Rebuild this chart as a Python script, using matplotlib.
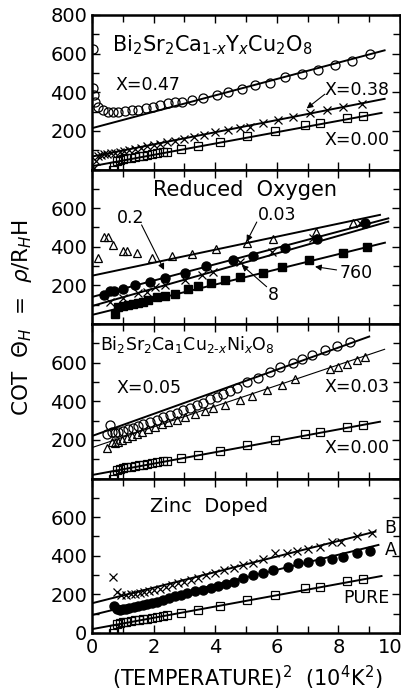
import numpy as np
import matplotlib.pyplot as plt
import matplotlib.transforms as mtransforms
from matplotlib.ticker import MultipleLocator

# ---- panel 1: Bi2Sr2Ca(1-x)YxCu2O8 ----
x47_t2 = [0.02, 0.04, 0.07, 0.1, 0.2, 0.37, 0.53, 0.69, 0.85, 1.07, 1.29, 1.5, 1.75, 1.98, 2.22, 2.48,
          2.7, 2.91, 3.24, 3.61, 4.05, 4.43, 4.86, 5.3, 5.78, 6.27, 6.81, 7.35, 7.89, 8.43, 9.03]
x47_cot = [622, 420, 386, 351, 325, 308, 300, 300, 300, 305, 308, 308, 316, 325, 333, 343,
           347, 351, 360, 369, 386, 403, 415, 438, 450, 477, 494, 515, 541, 562, 598]
x38_t2 = [0.05, 0.12, 0.2, 0.3, 0.4, 0.5, 0.62, 0.75, 0.9, 1.05, 1.2, 1.4, 1.6, 1.8, 2.0, 2.2, 2.45,
          2.7, 3.0, 3.3, 3.65, 4.0, 4.4, 4.8, 5.13, 5.55, 6.04, 6.53, 7.08, 7.63, 8.15, 8.77]
x38_cot = [8, 45, 68, 75, 80, 82, 85, 88, 92, 96, 100, 107, 113, 120, 128, 134, 143,
           150, 160, 170, 180, 192, 205, 216, 222, 243, 256, 270, 291, 308, 322, 339]
# pure sample (X=0.00), shown in panels 1, 3 and 4
pure_t2 = [0.68, 0.72, 0.8, 0.9, 1.0, 1.12, 1.25, 1.38, 1.52, 1.65, 1.8, 1.95, 2.12, 2.3, 2.45,
           2.9, 3.45, 4.15, 5.02, 5.94, 6.92, 7.4, 8.27, 8.81]
pure_cot = [0, 20, 45, 50, 55, 58, 62, 65, 68, 72, 75, 80, 83, 90, 93,
            105, 120, 140, 172, 197, 231, 240, 269, 279]
fit47 = ([0, 9.5], [214, 617])
fit38 = ([0, 9.5], [67, 366])
fit_pure = ([0, 9.4], [17, 293])

# ---- panel 2: reduced oxygen (anneal pressure, torr) ----
p003_t2 = [0.2, 0.4, 0.53, 0.69, 1.02, 1.13, 1.47, 1.94, 2.61, 3.26, 4.03, 5.02, 5.89, 7.27, 8.46]
p003_cot = [340, 452, 452, 409, 380, 380, 366, 340, 352, 361, 387, 418, 439, 478, 525]
p02_t2 = [0.4, 0.58, 0.7, 1.0, 1.4, 1.88, 2.38, 3.03, 3.7, 4.59, 5.24, 6.27, 7.3, 8.86]
p02_cot = [150, 173, 170, 183, 202, 218, 237, 263, 302, 330, 352, 393, 442, 525]
p8_t2 = [0.58, 1.0, 1.5, 1.77, 2.05, 2.37, 3.02, 3.56, 3.94, 4.8, 5.85, 7.19, 8.7]
p8_cot = [116, 133, 159, 167, 190, 200, 230, 255, 270, 323, 375, 444, 522]
p760_t2 = [0.75, 0.85, 1.02, 1.18, 1.34, 1.5, 1.67, 1.83, 2.1, 2.37, 2.69, 3.13, 3.45, 3.86, 4.32,
           4.8, 5.56, 6.16, 7.06, 8.16, 8.92]
p760_cot = [52, 86, 93, 98, 104, 110, 116, 124, 138, 145, 155, 180, 197, 214, 228,
            242, 266, 297, 332, 369, 400]
fit003 = ([0, 9.35], [250, 565])
fit02 = ([0, 9.62], [140, 547])
fit8 = ([0, 9.62], [93, 530])
fit760 = ([0, 9.51], [47, 421])

# ---- panel 3: Bi2Sr2CaCu(2-x)NixO8 ----
ni05_t2 = [0.48, 0.58, 0.65, 0.75, 0.86, 1.02, 1.18, 1.34, 1.5, 1.67, 1.88, 2.1, 2.32, 2.53, 2.75,
           2.96, 3.18, 3.4, 3.61, 3.83, 4.05, 4.26, 4.48, 4.7, 5.02, 5.4, 5.78, 6.1, 6.54, 6.81,
           7.13, 7.56, 7.94, 8.38]
ni05_cot = [230, 277, 240, 237, 243, 248, 255, 263, 272, 282, 294, 303, 317, 329, 341,
            355, 367, 381, 393, 410, 424, 438, 455, 470, 501, 519, 550, 575, 600, 620,
            640, 665, 688, 709]
ni03_t2 = [0.5, 0.64, 0.75, 0.86, 0.96, 1.13, 1.29, 1.45, 1.61, 1.83, 2.05, 2.26, 2.48, 2.75, 3.02,
           3.34, 3.67, 3.94, 4.32, 4.8, 5.18, 5.67, 6.16, 6.59, 7.73, 8.0, 8.27, 8.59, 8.86]
ni03_cot = [160, 191, 186, 191, 199, 212, 222, 233, 243, 256, 268, 280, 292, 305, 318,
            335, 352, 365, 382, 407, 427, 458, 484, 514, 566, 579, 593, 614, 631]
fit05 = ([0, 9.0], [220, 735])
fit03 = ([0, 9.5], [160, 669])
fit_pure3 = ([0, 9.35], [18, 294])

# ---- panel 4: zinc doped ----
znb_t2 = [0.69, 0.8, 0.95, 1.1, 1.25, 1.4, 1.55, 1.7, 1.85, 2.0, 2.2, 2.4, 2.6, 2.8, 3.0, 3.2, 3.45,
          3.7, 4.0, 4.3, 4.6, 4.91, 5.24, 5.56, 5.94, 6.32, 6.65, 7.02, 7.4, 7.78, 8.1, 8.59, 9.08]
znb_cot = [292, 214, 195, 197, 200, 202, 205, 210, 215, 222, 230, 240, 248, 258, 265, 275, 285,
           298, 312, 325, 338, 350, 365, 385, 413, 413, 426, 434, 444, 473, 473, 502, 520]
zna_t2 = [0.7, 0.8, 0.9, 1.0, 1.1, 1.2, 1.35, 1.5, 1.65, 1.8, 1.95, 2.1, 2.3, 2.5, 2.7, 2.9, 3.1,
          3.35, 3.6, 3.85, 4.1, 4.35, 4.6, 4.91, 5.24, 5.56, 5.89, 6.37, 6.7, 7.02, 7.4, 7.78,
          8.16, 8.59, 9.03]
zna_cot = [140, 125, 120, 122, 125, 128, 133, 138, 143, 150, 157, 163, 172, 180, 190, 197, 208,
           218, 225, 235, 245, 253, 262, 283, 300, 309, 326, 343, 361, 369, 375, 382,
           395, 413, 426]
fitb = ([0, 9.2], [154, 525])
fita = ([0, 9.3], [93, 456])
fit_pure4 = ([0, 9.4], [20, 295])

plt.rcParams['font.family'] = 'DejaVu Sans'
plt.rcParams['mathtext.fontset'] = 'dejavusans'
FS = 14    # tick labels
LFS = 12.5  # in-panel labels

fig = plt.figure(figsize=(4.02, 6.92), dpi=100)
left, right, bottom, top = 92 / 402, 400 / 402, 1 - 633 / 692, 1 - 15 / 692
h = (top - bottom) / 4
axes = [fig.add_axes([left, top - (i + 1) * h, right - left, h]) for i in range(4)]

open_kw = dict(mfc='none', mec='k', mew=0.9, ls='none')


def style(ax, labels):
    ax.set_xlim(0, 10)
    ax.set_ylim(0, 800)
    for s in ax.spines.values():
        s.set_linewidth(1.8)
    ax.xaxis.set_major_locator(MultipleLocator(2))
    ax.xaxis.set_minor_locator(MultipleLocator(1))
    ax.yaxis.set_major_locator(MultipleLocator(200))
    ax.yaxis.set_minor_locator(MultipleLocator(100))
    ax.tick_params(which='both', direction='in', top=True, right=True, width=1.0, labelsize=FS)
    ax.tick_params(which='major', length=6)
    ax.tick_params(which='minor', length=5)
    ax.set_yticks([0, 200, 400, 600, 800])
    ax.set_yticklabels([str(v) if v in labels else '' for v in [0, 200, 400, 600, 800]])


def fit(ax, f, lw=1.4):
    ax.plot(f[0], f[1], color='k', lw=lw)


arrow = dict(arrowstyle='-|>', color='k', lw=0.8, mutation_scale=9, shrinkA=0, shrinkB=0)

# panel 1
ax = axes[0]
style(ax, [200, 400, 600, 800])
for f in (fit47, fit38, fit_pure):
    fit(ax, f)
ax.plot(x47_t2, x47_cot, marker='o', ms=6.5, **open_kw)
ax.plot(x38_t2, x38_cot, marker='x', ms=5.5, color='k', mew=0.9, ls='none')
ax.plot(pure_t2, pure_cot, marker='s', ms=5.5, **open_kw)
ax.text(0.65, 645, r'Bi$_2$Sr$_2$Ca$_{1\text{-}x}$Y$_x$Cu$_2$O$_8$', fontsize=15, va='center')
ax.text(0.75, 438, 'X=0.47', fontsize=LFS, va='center')
ax.text(7.56, 411, 'X=0.38', fontsize=LFS, va='center')
ax.text(7.56, 153, 'X=0.00', fontsize=LFS, va='center')
ax.annotate('', xy=(6.97, 316), xytext=(7.56, 390), arrowprops=arrow)

# panel 2
ax = axes[1]
style(ax, [200, 400, 600])
for f in (fit003, fit02, fit8, fit760):
    fit(ax, f)
ax.plot(p003_t2, p003_cot, marker='^', ms=6, **open_kw)
ax.plot(p02_t2, p02_cot, marker='o', ms=6.5, color='k', ls='none')
ax.plot(p8_t2, p8_cot, marker='x', ms=5.5, color='k', mew=0.9, ls='none')
ax.plot(p760_t2, p760_cot, marker='s', ms=6, color='k', ls='none')
ax.text(4.97, 694, 'Reduced  Oxygen', fontsize=15, ha='center', va='center')
ax.text(0.81, 549, '0.2', fontsize=LFS, va='center')
ax.annotate('', xy=(2.34, 280), xytext=(1.61, 513), arrowprops=arrow)
ax.text(5.39, 565, '0.03', fontsize=LFS, va='center')
ax.annotate('', xy=(5.02, 426), xytext=(5.35, 528), arrowprops=arrow)
ax.text(5.88, 150, '8', fontsize=LFS, ha='center', va='center')
ax.annotate('', xy=(4.86, 306), xytext=(5.67, 193), arrowprops=arrow)
ax.text(8.05, 264, '760', fontsize=LFS, va='center')
ax.annotate('', xy=(7.24, 297), xytext=(7.94, 280), arrowprops=arrow)

# panel 3
ax = axes[2]
style(ax, [200, 400, 600])
fit(ax, fit05)
fit(ax, fit03, lw=0.8)
fit(ax, fit_pure3)
ax.plot(ni05_t2, ni05_cot, marker='o', ms=6.5, **open_kw)
ax.plot(ni03_t2, ni03_cot, marker='^', ms=5.5, **open_kw)
ax.plot(pure_t2, pure_cot, marker='s', ms=5.5, **open_kw)
ax.text(0.26, 692, r'Bi$_2$Sr$_2$Ca$_1$Cu$_{2\text{-}x}$Ni$_x$O$_8$', fontsize=12.5, va='center')
ax.text(0.81, 469, 'X=0.05', fontsize=LFS, va='center')
ax.text(7.56, 474, 'X=0.03', fontsize=LFS, va='center')
ax.text(7.56, 158, 'X=0.00', fontsize=LFS, va='center')

# panel 4
ax = axes[3]
style(ax, [0, 200, 400, 600])
for f in (fitb, fita, fit_pure4):
    fit(ax, f)
ax.plot(znb_t2, znb_cot, marker='x', ms=5.5, color='k', mew=0.9, ls='none')
ax.plot(zna_t2, zna_cot, marker='o', ms=6.5, color='k', ls='none')
ax.plot(pure_t2, pure_cot, marker='s', ms=5.5, **open_kw)
ax.text(1.88, 653, 'Zinc  Doped', fontsize=14, va='center')
ax.text(9.5, 544, 'B', fontsize=LFS, va='center')
ax.text(9.5, 430, 'A', fontsize=LFS, va='center')
ax.text(8.15, 181, 'PURE', fontsize=LFS, va='center')

for ax in axes[:3]:
    ax.tick_params(labelbottom=False)
axes[3].set_xticks([0, 2, 4, 6, 8, 10])
# pull the "10" label in so it stays inside the figure
last = axes[3].get_xticklabels()[-1]
last.set_transform(last.get_transform() + mtransforms.ScaledTranslation(-10 / 100, 0, fig.dpi_scale_trans))

fig.text(247 / 402, 1 - 678 / 692, r'(TEMPERATURE)$^2$  (10$^4$K$^2$)', fontsize=15,
         ha='center', va='center')
fig.text(22 / 402, 1 - 318 / 692, r'COT  $\Theta_H$  =  $\rho$/R$_H$H', fontsize=15.5,
         rotation=90, ha='center', va='center')

fig.savefig('out.png', dpi=100)
